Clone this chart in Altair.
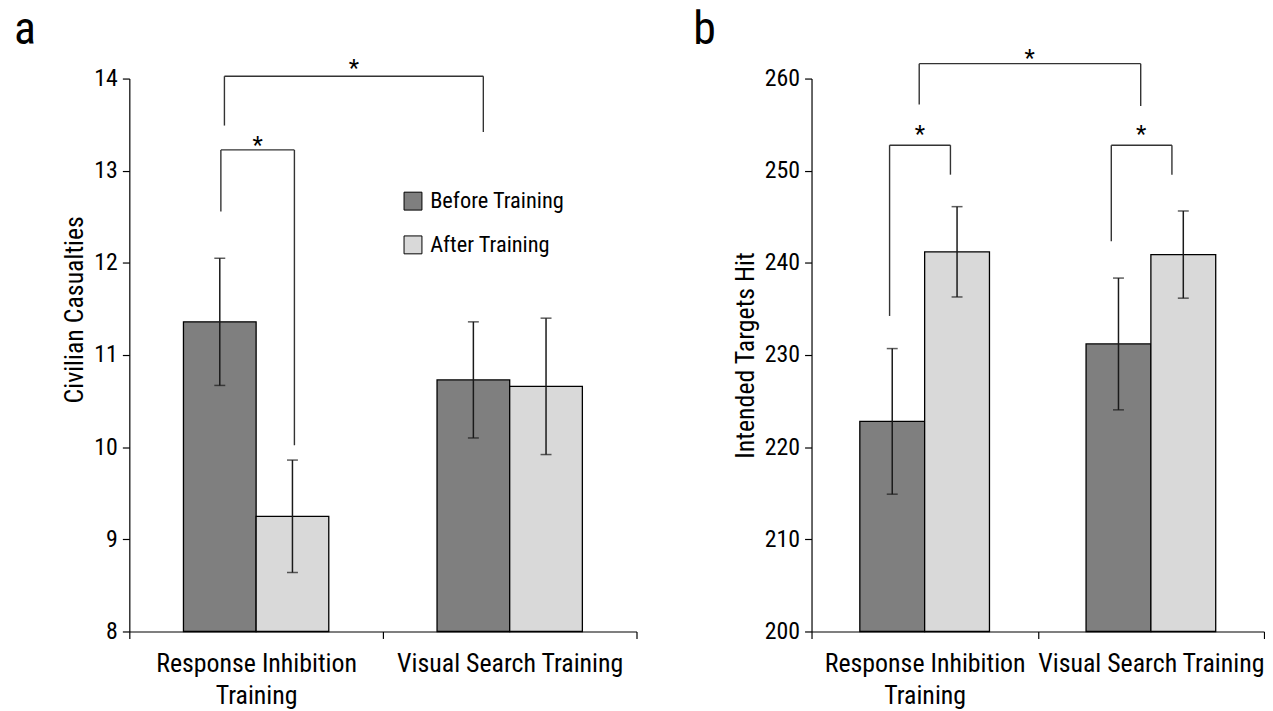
import altair as alt
import pandas as pd

# ---------------- data ----------------
groups = ["Response Inhibition Training", "Visual Search Training"]
phases = ["Before Training", "After Training"]

# order: RI-before, RI-after, VS-before, VS-after
cas_mean = [11.36, 9.25, 10.73, 10.66]
cas_err = [0.69, 0.61, 0.63, 0.74]
hit_mean = [222.8, 241.2, 231.2, 240.9]
hit_err = [7.9, 4.9, 7.15, 4.73]

# significance brackets: x in category units (0..2), y in data units
# (x_left, x_right, y_top, y_left_end, y_right_end)
cas_brackets = [
    (0.375, 1.396, 14.025, 13.49, 13.42),
    (0.361, 0.651, 13.226, 12.557, 10.02),
]
cas_stars = [(0.886, 14.16), (0.506, 13.32)]

hit_brackets = [
    (0.476, 1.455, 261.62, 257.19, 257.01),
    (0.345, 0.614, 252.77, 234.24, 249.57),
    (1.325, 1.593, 252.77, 242.34, 249.57),
]
hit_stars = [(0.964, 262.7), (0.479, 254.4), (1.457, 254.4)]

panel_letters = ["a", "b"]

FONT = "Liberation Sans Narrow, Arial Narrow, Roboto Condensed, DejaVu Sans Condensed, Liberation Sans, sans-serif"
DARK = "#7f7f7f"
LIGHT = "#d9d9d9"


def bar_df(means, errs):
    rows = []
    i = 0
    for g in groups:
        for p in phases:
            rows.append({"group": g, "phase": p, "mean": means[i],
                         "lo": means[i] - errs[i], "hi": means[i] + errs[i]})
            i += 1
    return pd.DataFrame(rows)


def bracket_df(brackets):
    rows = []
    for (xl, xr, yt, yl, yr) in brackets:
        rows.append({"x": xl, "x2": xl, "y": yl, "y2": yt})
        rows.append({"x": xl, "x2": xr, "y": yt, "y2": yt})
        rows.append({"x": xr, "x2": xr, "y": yr, "y2": yt})
    return pd.DataFrame(rows)


def panel(means, errs, brackets, stars, letter, ydomain, ytitle, width, show_legend, title_y=None):
    df = bar_df(means, errs)
    ticks = list(range(ydomain[0], ydomain[1] + 1, (ydomain[1] - ydomain[0]) // 6))
    yscale = alt.Scale(domain=ydomain, nice=False, zero=False)
    xenc = alt.X("group:N", sort=groups, title=None,
                 scale=alt.Scale(paddingInner=0, paddingOuter=0),
                 axis=alt.Axis(labelExpr="datum.label == 'Response Inhibition Training' ? ['Response Inhibition', 'Training'] : datum.label",
                               labelAngle=0, tickBand="extent", labelPadding=12,
                               labelLineHeight=32, labelBaseline="top", labelLimit=0))
    xoff = alt.XOffset("phase:N", sort=phases,
                       scale=alt.Scale(paddingInner=0, paddingOuter=0.745))
    if show_legend:
        legend = alt.Legend(title=None, orient="none", legendX=274, legendY=112,
                            symbolType="square", symbolSize=324,
                            symbolStrokeColor="black", symbolStrokeWidth=1,
                            labelFontSize=22.5, labelFont=FONT, labelColor="black",
                            rowPadding=21, labelOffset=6)
    else:
        legend = None
    color = alt.Color("phase:N", sort=phases,
                      scale=alt.Scale(domain=phases, range=[DARK, LIGHT]),
                      legend=legend)

    yaxis_kw = dict(values=ticks, format="d", titlePadding=6)
    if title_y is not None:
        yaxis_kw["titleY"] = title_y
    bars = alt.Chart(df).mark_bar(stroke="black", strokeWidth=1.3).encode(
        x=xenc, xOffset=xoff,
        y=alt.Y("mean:Q", scale=yscale, title=ytitle, axis=alt.Axis(**yaxis_kw)),
        y2=alt.datum(ydomain[0]),
        color=color,
    )
    err = alt.Chart(df).mark_rule(color="#1a1a1a", strokeWidth=1.5).encode(
        x=xenc, xOffset=xoff, y="lo:Q", y2="hi:Q")
    cap_lo = alt.Chart(df).mark_tick(color="#1a1a1a", thickness=1.5, size=11, orient="horizontal").encode(
        x=xenc, xOffset=xoff, y="lo:Q")
    cap_hi = alt.Chart(df).mark_tick(color="#1a1a1a", thickness=1.5, size=11, orient="horizontal").encode(
        x=xenc, xOffset=xoff, y="hi:Q")
    base = alt.layer(bars, err, cap_lo, cap_hi)

    bscale = alt.Scale(domain=[0, 2], nice=False, zero=False)
    br = alt.Chart(bracket_df(brackets)).mark_rule(color="#333", strokeWidth=1.4).encode(
        x=alt.X("x:Q", scale=bscale, axis=None), x2="x2:Q",
        y=alt.Y("y:Q", scale=yscale), y2="y2:Q")
    st = alt.Chart(pd.DataFrame(stars, columns=["x", "y"]).assign(t="*")).mark_text(
        font=FONT, fontSize=24, color="black", baseline="middle", dy=5).encode(
        x=alt.X("x:Q", scale=bscale, axis=None),
        y=alt.Y("y:Q", scale=yscale), text="t:N")
    ann = alt.layer(br, st)
    let = alt.Chart(pd.DataFrame({"t": [letter]})).mark_text(
        font=FONT, fontSize=46, color="black", align="left", baseline="alphabetic").encode(
        x=alt.value(-116 if letter == "a" else -119), y=alt.value(-35), text="t:N")

    layer = alt.layer(base, ann, let).resolve_scale(x="independent")
    return layer.properties(width=width, height=556)


pa = panel(cas_mean, cas_err, cas_brackets, cas_stars, panel_letters[0], [8, 14],
           "Civilian Casualties", 510, True, title_y=232)
pb = panel(hit_mean, hit_err, hit_brackets, hit_stars, panel_letters[1], [200, 260],
           "Intended Targets Hit", 455, False)

chart = alt.hconcat(pa, pb, spacing=56).resolve_scale(
    color="independent", x="independent", xOffset="independent", y="independent"
).properties(
    padding={"left": 6, "top": -3, "right": 0, "bottom": 0}
).configure_view(stroke=None).configure_axis(
    grid=False, domainColor="black", domainWidth=1.2, tickColor="black", tickWidth=1.2,
    tickSize=7, labelFont=FONT, titleFont=FONT, labelFontSize=24, titleFontSize=26,
    labelColor="black", titleColor="black", titleFontWeight="normal", labelPadding=5
).configure_axisX(labelFontSize=26, labelPadding=12)

chart.save("out.html", embed_options={"renderer": "svg", "actions": False})
